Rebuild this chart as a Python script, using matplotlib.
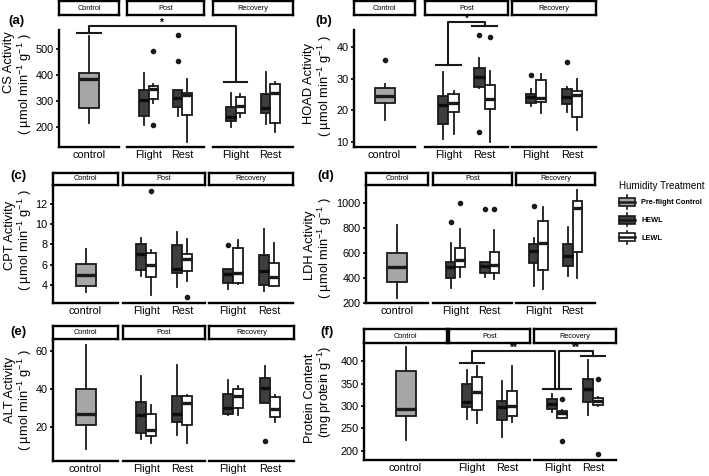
import matplotlib
matplotlib.use('Agg')
import matplotlib.pyplot as plt
from matplotlib.patches import Rectangle, Patch
from matplotlib.lines import Line2D
from matplotlib.legend_handler import HandlerBase

plt.rcParams['font.family'] = ['Liberation Sans', 'DejaVu Sans']
plt.rcParams['mathtext.fontset'] = 'custom'
plt.rcParams['mathtext.rm'] = 'Liberation Sans'
plt.rcParams['mathtext.it'] = 'Liberation Sans:italic'
plt.rcParams['mathtext.bf'] = 'Liberation Sans:bold'

# ---- data: box stats as [whisker low, q1, median, q3, whisker high]
# order of the 4 group lists: Post-Flight, Post-Rest, Recovery-Flight, Recovery-Rest
strips = ['Control', 'Post', 'Recovery']
groups = ['Flight', 'Rest']
treatments = ['Pre-flight Control', 'HEWL', 'LEWL']

cs_control = [215, 274, 385, 409, 551]
cs_control_out = []
cs_hewl = [[208, 243, 306, 343, 409], [243, 280, 312, 342, 342],
           [201, 224, 240, 278, 333], [214, 255, 274, 328, 412]]
cs_hewl_out = [[], [453, 553], [], []]
cs_lewl = [[293, 308, 346, 358, 366], [145, 249, 325, 331, 384],
           [240, 255, 283, 318, 328], [182, 218, 331, 365, 375]]
cs_lewl_out = [[208, 492], [], [], []]

hoad_control = [17.0, 22.5, 24.5, 27.1, 28.4]
hoad_control_out = [35.9]
hoad_hewl = [[10.9, 15.7, 21.7, 24.5, 32.3], [27.0, 27.4, 30.5, 33.3, 36.6],
             [21.5, 22.4, 24.1, 25.1, 26.9], [19.4, 21.9, 24.1, 26.9, 27.4]]
hoad_hewl_out = [[], [43.8, 13.0], [31.2], [35.5]]
hoad_lewl = [[12.6, 19.4, 22.2, 25.1, 26.2], [10.1, 20.6, 23.7, 28.1, 32.6],
             [19.1, 22.7, 24.0, 29.7, 31.6], [13.8, 18.0, 24.8, 26.0, 30.0]]
hoad_lewl_out = [[], [43.3], [], []]

cpt_control = [3.3, 3.9, 5.0, 6.1, 7.6]
cpt_control_out = []
cpt_hewl = [[4.9, 5.5, 7.05, 8.0, 8.6], [3.8, 5.2, 5.6, 7.9, 9.2],
            [3.6, 4.2, 5.1, 5.6, 5.6], [3.4, 4.0, 5.4, 7.0, 9.5]]
cpt_hewl_out = [[], [], [7.9], []]
cpt_lewl = [[3.0, 4.8, 6.0, 7.2, 7.5], [4.4, 5.4, 6.6, 7.1, 8.5],
            [4.1, 4.2, 5.2, 7.7, 8.45], [3.9, 3.9, 4.8, 6.15, 8.1]]
cpt_lewl_out = [[13.3], [2.8], [], []]

ldh_control = [240, 364, 487, 595, 819]
ldh_control_out = []
ldh_hewl = [[319, 398, 482, 527, 680], [403, 435, 490, 522, 527],
            [332, 516, 613, 666, 719], [416, 490, 574, 666, 803]]
ldh_hewl_out = [[843], [948], [975], []]
ldh_lewl = [[403, 482, 540, 635, 793], [390, 435, 503, 606, 785],
            [311, 461, 680, 856, 970], [395, 608, 956, 1017, 1101]]
ldh_lewl_out = [[996], [948], [], []]

alt_control = [8.4, 21.3, 27.2, 40.2, 63.4]
alt_control_out = []
alt_hewl = [[13.8, 17.1, 26.6, 33.1, 47.1], [15.9, 23.0, 27.2, 36.3, 53.0],
            [26.7, 27.2, 30.3, 37.3, 44.9], [32.6, 32.6, 40.7, 46.2, 52.4]]
alt_hewl_out = [[], [], [], [12.6]]
alt_lewl = [[11.6, 15.5, 18.7, 27.0, 31.9], [12.0, 21.3, 32.8, 36.5, 37.0],
            [26.4, 30.3, 36.5, 40.2, 41.8], [23.0, 25.5, 29.7, 36.1, 37.0]]
alt_lewl_out = [[], [], [], []]

prot_control = [224, 277, 294, 378, 431]
prot_control_out = []
prot_hewl = [[272, 297, 310, 350, 380], [231, 270, 297, 312, 356],
             [286, 294, 305, 317, 327], [281, 310, 339, 360, 404]]
prot_hewl_out = [[], [], [], []]
prot_lewl = [[262, 292, 332, 366, 390], [264, 277, 300, 334, 389],
             [274, 274, 284, 290, 292], [301, 303, 312, 319, 321]]
prot_lewl_out = [[], [], [316, 221], [360, 193]]

W, H = 709, 476
CTRL = '#a6a6a6'
HEWL = '#3e3e3e'
EDGE = '#1a1a1a'

fig = plt.figure(figsize=(W / 100, H / 100), dpi=100)


def px_axes(x0, x1, y0, y1):
    return fig.add_axes([x0 / W, 1 - y1 / H, (x1 - x0) / W, (y1 - y0) / H])


def stat(v, out):
    return dict(whislo=v[0], q1=v[1], med=v[2], q3=v[3], whishi=v[4], fliers=out)


def draw_box(ax, stats, pos, width, color, medcol):
    ax.bxp(stats, positions=pos, widths=width, patch_artist=True, showcaps=False,
           manage_ticks=False,
           boxprops=dict(facecolor=color, edgecolor=EDGE, linewidth=1.3),
           medianprops=dict(color=medcol, linewidth=2.4, solid_capstyle='butt'),
           whiskerprops=dict(color=EDGE, linewidth=1.3),
           flierprops=dict(marker='o', markerfacecolor=EDGE, markeredgecolor=EDGE,
                           markersize=3.0))


def draw_panel(facets, ybox, sbox, ylim, yticks, ctrl, ctrl_out, hewl, hewl_out, lewl, lewl_out):
    axes = []
    for i, (x0, x1) in enumerate(facets):
        ax = px_axes(x0, x1, *ybox)
        ax.patch.set_alpha(0)
        ax.set_ylim(ylim)
        for s in ['top', 'right']:
            ax.spines[s].set_visible(False)
        ax.spines['bottom'].set_linewidth(1.7)
        ax.spines['left'].set_linewidth(1.7)
        ax.tick_params(axis='x', length=0, pad=2.2, labelsize=7.8)
        ax.tick_params(axis='y', length=2.5, width=1.2, pad=1.5, labelsize=7.8)
        if i == 0:
            ax.set_xlim(0.5, 1.5)
            draw_box(ax, [stat(ctrl, ctrl_out)], [1], 20 / (x1 - x0), CTRL, EDGE)
            ax.set_xticks([1], ['control'])
            ax.set_yticks(yticks)
        else:
            ax.set_xlim(0.35, 2.65)
            k = 2 * (i - 1)
            draw_box(ax, [stat(hewl[k + j], hewl_out[k + j]) for j in range(2)],
                     [0.86, 1.86], 0.28, HEWL, '#0d0d0d')
            draw_box(ax, [stat(lewl[k + j], lewl_out[k + j]) for j in range(2)],
                     [1.14, 2.14], 0.28, 'white', EDGE)
            ax.set_xticks([1, 2], groups)
            ax.spines['left'].set_visible(False)
            ax.tick_params(axis='y', left=False, labelleft=False)
        axes.append(ax)
        sa = px_axes(x0, x1, *sbox)
        sa.set_xticks([])
        sa.set_yticks([])
        for s in sa.spines.values():
            s.set_linewidth(1.7)
        sa.text(0.5, 0.5, strips[i], ha='center', va='center', fontsize=5.3,
                transform=sa.transAxes)
    return axes


def to_fig(ax, x, y):
    return fig.transFigure.inverted().transform(ax.transData.transform((x, y)))


def bracket(axl, xl, yl, capl, axr, xr, yr, capr, ytop, label):
    segs = [[to_fig(axl, xl - capl, yl), to_fig(axl, xl + capl, yl)],
            [to_fig(axl, xl, yl), to_fig(axl, xl, ytop), to_fig(axr, xr, ytop),
             to_fig(axr, xr, yr)],
            [to_fig(axr, xr - capr, yr), to_fig(axr, xr + capr, yr)]]
    for seg in segs:
        fig.add_artist(Line2D([p[0] for p in seg], [p[1] for p in seg],
                              transform=fig.transFigure, color=EDGE, lw=1.5))
    a = to_fig(axl, xl, ytop)
    b = to_fig(axr, xr, ytop)
    fig.text((a[0] + b[0]) / 2, a[1], label, ha='center', va='baseline',
             fontsize=7, weight='bold')


# (a) CS
ax_a = draw_panel([(59, 119), (127, 204), (213, 293)], (30, 147), (1, 15), (125, 573),
                  [200, 300, 400, 500], cs_control, cs_control_out,
                  cs_hewl, cs_hewl_out, cs_lewl, cs_lewl_out)
bracket(ax_a[0], 1, 562, 0.2, ax_a[2], 1, 374, 0.34, 589, '*')

# (b) HOAD
ax_b = draw_panel([(354, 415), (425, 508), (512, 596)], (30, 147), (1, 15), (8.4, 45.5),
                  [10, 20, 30, 40], hoad_control, hoad_control_out,
                  hoad_hewl, hoad_hewl_out, hoad_lewl, hoad_lewl_out)
bracket(ax_b[1], 1, 34.5, 0.34, ax_b[1], 2, 46.7, 0.34, 48.0, '*')

# (c) CPT
draw_panel([(53, 118), (123, 205), (209, 293)], (185, 303), (173, 185), (2.24, 13.85),
           [4, 6, 8, 10, 12], cpt_control, cpt_control_out,
           cpt_hewl, cpt_hewl_out, cpt_lewl, cpt_lewl_out)

# (d) LDH
draw_panel([(366, 428), (433, 512), (516, 595)], (185, 303), (173, 185), (197, 1143),
           [200, 400, 600, 800, 1000], ldh_control, ldh_control_out,
           ldh_hewl, ldh_hewl_out, ldh_lewl, ldh_lewl_out)

# (e) ALT
draw_panel([(53, 118), (123, 205), (209, 294)], (340, 461), (326, 339), (2.35, 65.9),
           [20, 40, 60], alt_control, alt_control_out,
           alt_hewl, alt_hewl_out, alt_lewl, alt_lewl_out)

# (f) Protein
ax_f = draw_panel([(364, 447), (449, 530), (534, 616)], (343, 460), (329, 343), (179.6, 441),
                  [200, 250, 300, 350, 400], prot_control, prot_control_out,
                  prot_hewl, prot_hewl_out, prot_lewl, prot_lewl_out)
bracket(ax_f[1], 1, 396, 0.34, ax_f[2], 0.94, 339, 0.34, 424, '**')
bracket(ax_f[2], 1.06, 339, 0.34, ax_f[2], 2, 411, 0.34, 424, '**')

# panel letters and y titles
unit = '( µmol min$^{-1}$ g$^{-1}$ )'
ylabels = [('(a)', 8, 21, 'CS Activity', 9, 62, unit, 25, 84),
           ('(b)', 315, 21, 'HOAD Activity', 309, 84, unit, 325, 86),
           ('(c)', 10, 176, 'CPT Activity', 10, 235, unit, 25, 240),
           ('(d)', 317, 176, 'LDH Activity', 310, 245, unit, 325, 248),
           ('(e)', 10, 332, 'ALT Activity', 10, 390, unit, 25, 400),
           ('(f)', 320, 332, 'Protein Content', 310, 398, '(mg protein g$^{-1}$)', 325, 392)]
for lab, lx, ly, t1, x1, y1, t2, x2, y2 in ylabels:
    fig.text(lx / W, 1 - ly / H, lab, ha='left', va='center', fontsize=9.5, weight='bold')
    fig.text(x1 / W, 1 - y1 / H, t1, rotation=90, ha='center', va='center', fontsize=9.3)
    fig.text(x2 / W, 1 - y2 / H, t2, rotation=90, ha='center', va='center', fontsize=9.3)


class BoxKey(HandlerBase):
    def create_artists(self, legend, orig, xd, yd, w, h, fs, trans):
        x0, y0 = -xd, -yd
        cx = x0 + w / 2
        kw = dict(color=EDGE, lw=1.2, transform=trans)
        wl = Line2D([cx, cx], [y0, y0 + 0.2 * h], **kw)
        wh = Line2D([cx, cx], [y0 + 0.8 * h, y0 + h], **kw)
        r = Rectangle((x0, y0 + 0.2 * h), w, 0.6 * h, facecolor=orig.get_facecolor(),
                      edgecolor=EDGE, lw=1.2, transform=trans)
        m = Line2D([x0, x0 + w], [y0 + h / 2] * 2, color=EDGE, lw=1.8, transform=trans)
        return [wl, wh, r, m]


handles = [Patch(facecolor=c) for c in [CTRL, HEWL, 'white']]
fig.legend(handles, treatments, handler_map={Patch: BoxKey()}, loc='upper left',
           bbox_to_anchor=(619 / W, 1 - 181 / H), frameon=False, borderpad=0,
           borderaxespad=0, title='Humidity Treatment', title_fontsize=7.1,
           prop={'size': 5.3, 'weight': 'bold'}, handlelength=2.2, handleheight=2.4,
           labelspacing=0.6, handletextpad=0.8, alignment='left')

fig.savefig('out.png', dpi=100)
